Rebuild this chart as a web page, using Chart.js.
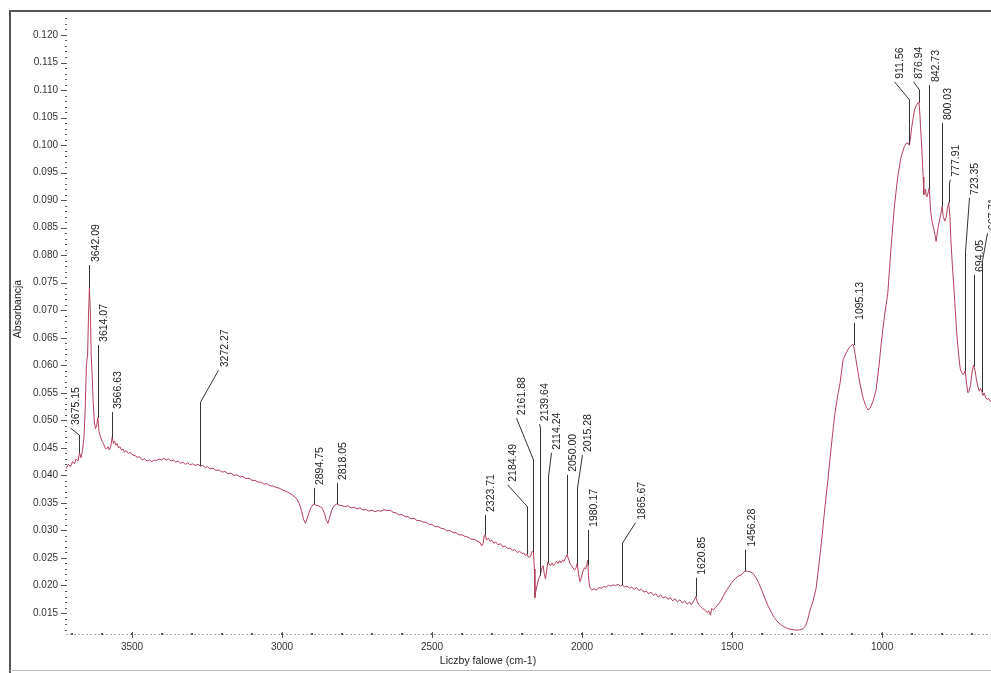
<!DOCTYPE html>
<html>
<head>
<meta charset="utf-8">
<script src="https://cdn.jsdelivr.net/npm/chart.js"></script>
<style>
  html, body { margin: 0; padding: 0; background: #fff; }
  #wrap { width: 991px; height: 673px; position: relative; }
</style>
</head>
<body>
<div id="wrap"><canvas id="spectrum"></canvas></div>
<script>
// spectrum (cm-1, absorbance)
const wavenumbers = [
  3720, 3712, 3705, 3698, 3692, 3686, 3680, 3675, 3670, 3665, 3660, 3656, 3652, 3648, 3645, 3642, 3639, 3636, 3633, 3630,
  3626, 3622, 3618, 3614, 3610, 3605, 3600, 3595, 3590, 3585, 3580, 3575, 3570, 3566, 3562, 3558, 3554, 3550, 3545, 3540,
  3535, 3530, 3525, 3520, 3512, 3505, 3498, 3490, 3482, 3475, 3466, 3458, 3450, 3442, 3434, 3426, 3418, 3410, 3402, 3394,
  3386, 3378, 3370, 3362, 3354, 3346, 3338, 3330, 3322, 3314, 3306, 3298, 3290, 3280, 3272, 3264, 3256, 3248, 3240, 3230,
  3220, 3210, 3200, 3190, 3180, 3170, 3160, 3150, 3140, 3130, 3120, 3110, 3100, 3090, 3080, 3070, 3060, 3050, 3040, 3030,
  3020, 3010, 3000, 2990, 2980, 2970, 2960, 2950, 2942, 2935, 2928, 2922, 2916, 2910, 2903, 2895, 2888, 2880, 2872, 2865,
  2858, 2852, 2847, 2842, 2835, 2828, 2818, 2810, 2800, 2790, 2780, 2770, 2760, 2750, 2740, 2730, 2720, 2710, 2700, 2690,
  2680, 2670, 2660, 2650, 2640, 2630, 2620, 2610, 2600, 2590, 2580, 2570, 2560, 2550, 2540, 2530, 2520, 2510, 2500, 2490,
  2480, 2470, 2460, 2450, 2440, 2430, 2420, 2410, 2400, 2390, 2380, 2370, 2360, 2350, 2340, 2335, 2330, 2326, 2323, 2318,
  2312, 2306, 2300, 2294, 2288, 2280, 2272, 2264, 2256, 2248, 2240, 2232, 2224, 2216, 2208, 2200, 2194, 2188, 2184, 2178,
  2172, 2166, 2162, 2159, 2157, 2154, 2150, 2146, 2142, 2139, 2135, 2130, 2126, 2122, 2118, 2114, 2110, 2105, 2100, 2095,
  2090, 2085, 2080, 2075, 2070, 2065, 2060, 2055, 2050, 2045, 2040, 2035, 2030, 2025, 2020, 2016, 2012, 2007, 2002, 1997,
  1992, 1988, 1984, 1981, 1978, 1974, 1968, 1960, 1952, 1944, 1936, 1928, 1920, 1912, 1904, 1896, 1888, 1880, 1872, 1865,
  1858, 1850, 1842, 1834, 1826, 1818, 1810, 1802, 1794, 1786, 1778, 1770, 1762, 1754, 1746, 1738, 1730, 1722, 1714, 1706,
  1698, 1690, 1682, 1674, 1666, 1658, 1650, 1642, 1636, 1630, 1624, 1621, 1617, 1612, 1605, 1598, 1590, 1583, 1578, 1572,
  1568, 1562, 1556, 1550, 1540, 1530, 1520, 1510, 1500, 1490, 1480, 1470, 1462, 1456, 1448, 1440, 1430, 1420, 1410, 1400,
  1390, 1380, 1370, 1360, 1350, 1340, 1330, 1320, 1310, 1300, 1290, 1280, 1270, 1262, 1255, 1248, 1240, 1230, 1220, 1210,
  1200, 1190, 1180, 1173, 1165, 1157, 1148, 1140, 1130, 1120, 1110, 1098, 1095, 1087, 1076, 1064, 1055, 1047, 1040, 1030,
  1020, 1010, 1003, 992, 981, 970, 959, 948, 937, 926, 918, 913, 911, 909, 905, 901, 896, 892, 886, 880,
  877, 874, 871, 868, 865, 863, 861, 858, 855, 853, 850, 846, 843, 838, 833, 828, 824, 820, 815, 810,
  805, 800, 796, 791, 786, 782, 778, 774, 770, 765, 760, 755, 750, 745, 740, 735, 730, 726, 723, 718,
  714, 710, 705, 700, 695, 690, 685, 680, 676, 672, 668, 664, 660, 655, 650, 645, 640, 636
];
const absorbance = [
  0.0412, 0.0420, 0.0416, 0.0425, 0.0421, 0.0430, 0.0426, 0.0441, 0.0432, 0.0445, 0.0470, 0.0520, 0.0600, 0.0620, 0.0690, 0.0742, 0.0700, 0.0620, 0.0585, 0.0540,
  0.0500, 0.0485, 0.0490, 0.0505, 0.0480, 0.0470, 0.0462, 0.0458, 0.0450, 0.0448, 0.0452, 0.0446, 0.0455, 0.0470, 0.0458, 0.0462, 0.0455, 0.0458, 0.0450, 0.0452,
  0.0446, 0.0448, 0.0442, 0.0445, 0.0440, 0.0442, 0.0437, 0.0436, 0.0433, 0.0434, 0.0428, 0.0430, 0.0426, 0.0428, 0.0425, 0.0428, 0.0427, 0.0430, 0.0428, 0.0431,
  0.0428, 0.0430, 0.0426, 0.0428, 0.0424, 0.0426, 0.0422, 0.0424, 0.0420, 0.0423, 0.0419, 0.0421, 0.0418, 0.0420, 0.0417, 0.0418, 0.0414, 0.0416, 0.0412, 0.0413,
  0.0409, 0.0410, 0.0406, 0.0407, 0.0403, 0.0404, 0.0400, 0.0401, 0.0397, 0.0398, 0.0394, 0.0395, 0.0391, 0.0391, 0.0388, 0.0388, 0.0384, 0.0385, 0.0381, 0.0381,
  0.0378, 0.0377, 0.0374, 0.0372, 0.0369, 0.0366, 0.0362, 0.0357, 0.0348, 0.0336, 0.0320, 0.0313, 0.0322, 0.0333, 0.0342, 0.0348, 0.0346, 0.0345, 0.0343, 0.0340,
  0.0330, 0.0318, 0.0313, 0.0322, 0.0336, 0.0344, 0.0348, 0.0346, 0.0345, 0.0343, 0.0345, 0.0341, 0.0342, 0.0339, 0.0341, 0.0337, 0.0338, 0.0335, 0.0337, 0.0334,
  0.0336, 0.0335, 0.0338, 0.0336, 0.0337, 0.0333, 0.0332, 0.0328, 0.0329, 0.0325, 0.0325, 0.0321, 0.0322, 0.0318, 0.0318, 0.0315, 0.0315, 0.0311, 0.0311, 0.0307,
  0.0307, 0.0304, 0.0303, 0.0299, 0.0300, 0.0296, 0.0296, 0.0292, 0.0292, 0.0289, 0.0288, 0.0284, 0.0284, 0.0281, 0.0278, 0.0272, 0.0276, 0.0290, 0.0292, 0.0283,
  0.0286, 0.0280, 0.0282, 0.0277, 0.0279, 0.0274, 0.0276, 0.0270, 0.0272, 0.0267, 0.0268, 0.0264, 0.0265, 0.0260, 0.0262, 0.0258, 0.0259, 0.0254, 0.0257, 0.0251,
  0.0253, 0.0262, 0.0262, 0.0230, 0.0178, 0.0190, 0.0200, 0.0210, 0.0215, 0.0219, 0.0230, 0.0236, 0.0222, 0.0212, 0.0226, 0.0243, 0.0239, 0.0236, 0.0241, 0.0236,
  0.0240, 0.0244, 0.0240, 0.0245, 0.0241, 0.0246, 0.0244, 0.0250, 0.0256, 0.0248, 0.0240, 0.0236, 0.0232, 0.0228, 0.0232, 0.0240, 0.0222, 0.0207, 0.0215, 0.0226,
  0.0232, 0.0230, 0.0238, 0.0246, 0.0212, 0.0196, 0.0192, 0.0194, 0.0192, 0.0196, 0.0195, 0.0198, 0.0197, 0.0200, 0.0199, 0.0201, 0.0200, 0.0202, 0.0199, 0.0201,
  0.0197, 0.0199, 0.0195, 0.0197, 0.0193, 0.0196, 0.0191, 0.0193, 0.0188, 0.0190, 0.0185, 0.0188, 0.0182, 0.0185, 0.0179, 0.0183, 0.0177, 0.0180, 0.0175, 0.0178,
  0.0172, 0.0176, 0.0170, 0.0174, 0.0168, 0.0172, 0.0166, 0.0170, 0.0165, 0.0170, 0.0176, 0.0180, 0.0172, 0.0166, 0.0162, 0.0158, 0.0155, 0.0151, 0.0154, 0.0146,
  0.0158, 0.0156, 0.0160, 0.0163, 0.0170, 0.0180, 0.0190, 0.0198, 0.0206, 0.0212, 0.0217, 0.0219, 0.0224, 0.0226, 0.0226, 0.0225, 0.0222, 0.0214, 0.0203, 0.0190,
  0.0176, 0.0163, 0.0152, 0.0142, 0.0135, 0.0130, 0.0126, 0.0123, 0.0121, 0.0120, 0.0119, 0.0119, 0.0120, 0.0122, 0.0127, 0.0138, 0.0155, 0.0172, 0.0195, 0.0240,
  0.0290, 0.0345, 0.0395, 0.0434, 0.0475, 0.0513, 0.0545, 0.0568, 0.0610, 0.0622, 0.0632, 0.0638, 0.0637, 0.0610, 0.0573, 0.0542, 0.0527, 0.0519, 0.0522, 0.0535,
  0.0555, 0.0600, 0.0640, 0.0690, 0.0731, 0.0815, 0.0888, 0.0942, 0.0978, 0.0997, 0.1004, 0.1003, 0.1001, 0.1000, 0.1015, 0.1033, 0.1050, 0.1064, 0.1072, 0.1077,
  0.1078, 0.1055, 0.1025, 0.0997, 0.0965, 0.0942, 0.0910, 0.0912, 0.0920, 0.0908, 0.0906, 0.0915, 0.0922, 0.0878, 0.0860, 0.0848, 0.0838, 0.0825, 0.0845, 0.0860,
  0.0872, 0.0889, 0.0870, 0.0862, 0.0870, 0.0885, 0.0896, 0.0870, 0.0820, 0.0775, 0.0735, 0.0690, 0.0650, 0.0620, 0.0595, 0.0587, 0.0583, 0.0586, 0.0590, 0.0565,
  0.0550, 0.0553, 0.0565, 0.0588, 0.0600, 0.0590, 0.0572, 0.0560, 0.0553, 0.0558, 0.0552, 0.0545, 0.0550, 0.0542, 0.0538, 0.0540, 0.0535, 0.0533
];

// labelled peaks
const peakWavenumbers = [
  3675.15, 3642.09, 3614.07, 3566.63, 3272.27, 2894.75, 2818.05, 2323.71, 2184.49, 2161.88,
  2139.64, 2114.24, 2050.00, 2015.28, 1980.17, 1865.67, 1620.85, 1456.28, 1095.13, 911.56,
  876.94, 842.73, 800.03, 777.91, 723.35, 694.05, 667.71
];
// leader lines: knee height, then where the label sits (wavenumber, absorbance)
const leaderKnee = [
  0.0473, 0.0782, 0.0637, 0.0515, 0.0533, 0.0377, 0.0386, 0.0328, 0.0343, 0.0428,
  0.0486, 0.0397, 0.0401, 0.0377, 0.0301, 0.0277, 0.0214, 0.0265, 0.0677, 0.1082,
  0.1100, 0.1109, 0.1040, 0.0931, 0.0806, 0.0764, 0.0790
];
const leaderEndWn = [
  3707, 3642.09, 3614.07, 3566.63, 3213, 2894.75, 2818.05, 2323.71, 2250, 2220,
  2145, 2104, 2050.00, 2001, 1980.17, 1823, 1620.85, 1456.28, 1095.13, 960,
  898, 842.73, 800.03, 775, 710, 694.05, 650
];
const leaderEndAbs = [
  0.0486, 0.0782, 0.0637, 0.0515, 0.0591, 0.0377, 0.0386, 0.0328, 0.0383, 0.0504,
  0.0493, 0.0441, 0.0401, 0.0437, 0.0301, 0.0314, 0.0214, 0.0265, 0.0677, 0.1115,
  0.1115, 0.1109, 0.1040, 0.0937, 0.0904, 0.0764, 0.0840
];

const xTicks = [3500, 3000, 2500, 2000, 1500, 1000];
const yTicks = [0.015, 0.020, 0.025, 0.030, 0.035, 0.040, 0.045, 0.050, 0.055, 0.060, 0.065, 0.070,
                0.075, 0.080, 0.085, 0.090, 0.095, 0.100, 0.105, 0.110, 0.115, 0.120];

const FONT = "'Liberation Sans', Arial, sans-serif";

function absAt(w) {
  for (let i = 0; i < wavenumbers.length - 1; i++) {
    const a = wavenumbers[i], b = wavenumbers[i + 1];
    if (w <= a && w >= b) {
      const t = (a - w) / (a - b);
      return absorbance[i] + t * (absorbance[i + 1] - absorbance[i]);
    }
  }
  return absorbance[absorbance.length - 1];
}

const decor = {
  id: 'decor',
  beforeDraw(chart) {
    const ctx = chart.ctx;
    ctx.save();
    ctx.fillStyle = '#fff';
    ctx.fillRect(0, 0, chart.width, chart.height);
    // outer frame of the printout
    ctx.strokeStyle = '#555';
    ctx.lineWidth = 2;
    ctx.beginPath();
    ctx.moveTo(chart.width, 11);
    ctx.lineTo(10, 11);
    ctx.lineTo(10, chart.height);
    ctx.stroke();
    ctx.strokeStyle = '#bbb';
    ctx.lineWidth = 1;
    ctx.beginPath();
    ctx.moveTo(10, 670.5);
    ctx.lineTo(chart.width, 670.5);
    ctx.stroke();
    ctx.restore();
  },
  afterDraw(chart) {
    const ctx = chart.ctx;
    const xs = chart.scales.x, ys = chart.scales.y;
    const area = chart.chartArea;
    ctx.save();

    // y axis: dotted line with minor dots and major ticks
    ctx.fillStyle = '#555';
    for (let k = 12; k <= 123; k++) {
      const y = Math.round(ys.getPixelForValue(k / 1000));
      ctx.fillRect(area.left - 1, y, 2, 1);
    }
    yTicks.forEach(v => {
      const y = Math.round(ys.getPixelForValue(v));
      ctx.fillRect(area.left - 5, y, 5, 1);
    });

    // x axis: light dashed line, dots every 100, ticks every 500
    ctx.strokeStyle = '#aaa';
    ctx.setLineDash([2, 2]);
    ctx.beginPath();
    ctx.moveTo(area.left, area.bottom + 0.5);
    ctx.lineTo(area.right, area.bottom + 0.5);
    ctx.stroke();
    ctx.setLineDash([]);
    ctx.fillStyle = '#555';
    for (let w = 3700; w >= 700; w -= 100) {
      const x = Math.round(xs.getPixelForValue(w));
      ctx.fillRect(x - 1, area.bottom - 1, 2, 2);
    }
    xTicks.forEach(w => {
      const x = Math.round(xs.getPixelForValue(w));
      ctx.fillRect(x, area.bottom - 2, 1, 6);
    });

    // peak markers
    ctx.strokeStyle = '#333';
    ctx.lineWidth = 1;
    ctx.fillStyle = '#222';
    ctx.font = '10.5px ' + FONT;
    ctx.textAlign = 'left';
    ctx.textBaseline = 'middle';
    peakWavenumbers.forEach((w, i) => {
      const x0 = xs.getPixelForValue(w);
      const y0 = ys.getPixelForValue(absAt(w));
      const yk = ys.getPixelForValue(leaderKnee[i]);
      const x1 = xs.getPixelForValue(leaderEndWn[i]);
      const y1 = ys.getPixelForValue(leaderEndAbs[i]);
      ctx.beginPath();
      ctx.moveTo(Math.round(x0) + 0.5, y0);
      ctx.lineTo(Math.round(x0) + 0.5, yk);
      ctx.lineTo(Math.round(x1) + 0.5, y1);
      ctx.stroke();
      ctx.save();
      ctx.translate(x1 + 6.5, y1 - 3);
      ctx.rotate(-Math.PI / 2);
      ctx.fillText(w.toFixed(2), 0, 0);
      ctx.restore();
    });

    // axis titles
    ctx.fillStyle = '#222';
    ctx.font = '10.5px ' + FONT;
    ctx.textAlign = 'center';
    ctx.textBaseline = 'middle';
    ctx.fillText('Liczby falowe (cm-1)', 488, 661);
    ctx.save();
    ctx.translate(18, 309);
    ctx.rotate(-Math.PI / 2);
    ctx.fillText('Absorbancja', 0, 0);
    ctx.restore();

    ctx.restore();
  }
};

new Chart(document.getElementById('spectrum'), {
  type: 'line',
  data: {
    datasets: [{
      data: wavenumbers.map((w, i) => ({ x: w, y: absorbance[i] })),
      borderColor: '#b4405c',
      borderWidth: 1,
      pointRadius: 0,
      tension: 0
    }]
  },
  options: {
    responsive: true,
    maintainAspectRatio: false,
    animation: false,
    layout: { padding: { top: 15, right: 0, left: 0, bottom: 0 } },
    plugins: { legend: { display: false }, tooltip: { enabled: false } },
    scales: {
      x: {
        type: 'linear',
        reverse: true,
        min: 637,
        max: 3720,
        grid: { display: false, drawTicks: false },
        border: { display: false },
        afterBuildTicks: s => { s.ticks = xTicks.map(v => ({ value: v })); },
        afterFit: s => { s.height = 39; },
        ticks: {
          padding: 7,
          color: '#333',
          font: { family: FONT, size: 10 },
          maxRotation: 0,
          callback: v => String(v)
        }
      },
      y: {
        min: 0.01119,
        max: 0.12363,
        grid: { display: false, drawTicks: false },
        border: { display: false },
        afterBuildTicks: s => { s.ticks = yTicks.map(v => ({ value: v })); },
        afterFit: s => { s.width = 66; },
        ticks: {
          padding: 8,
          color: '#333',
          font: { family: FONT, size: 10 },
          callback: v => v.toFixed(3)
        }
      }
    }
  },
  plugins: [decor]
});
</script>
</body>
</html>
